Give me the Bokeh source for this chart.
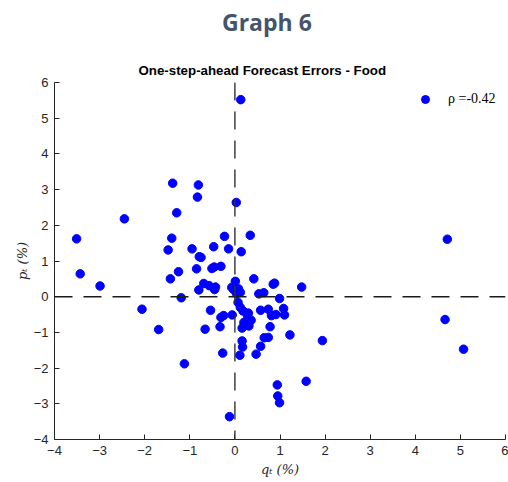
from bokeh.plotting import figure
from bokeh.models import Title, Span, FixedTicker, Legend, LegendItem, Div
from bokeh.layouts import column
from bokeh.embed import file_html
from bokeh.resources import INLINE

# forecast errors: q_t (x) and p_t (y), in percent
q = [0.13, -3.51, -3.43, -2.99, -2.45, -2.06, -1.69, -1.12, -1.38, -0.81,
     -0.83, -1.29, -1.40, -1.48, -0.95, -0.79, -0.75, -0.47, -0.23, -0.14,
     0.03, 0.34, 0.14, -1.25, -1.43, -0.85, -0.51, -0.46, -0.31, -0.69,
     -0.57, -0.43, -0.45, -0.80, -1.19, 0.01, 0.42, 0.85, 0.88, 1.48,
     -0.07, -0.03, 0.08, 0.12, 0.04, 0.53, 0.64, 0.99, 0.07, 0.12,
     0.18, 0.30, 0.28, -0.54, -0.31, -0.25, -0.06, 0.57, 0.74, 0.81,
     0.91, 1.08, 1.10, 0.20, 0.27, 0.36, 0.31, 0.16, -0.66, -0.33,
     0.78, 1.22, 0.65, 0.74, 0.16, 0.17, 0.57, -0.27, 0.11, 0.47,
     1.94, 1.58, 0.94, 0.95, 0.99, -0.12, 4.71, 4.66, 5.07]
p = [5.52, 1.62, 0.64, 0.30, 2.18, -0.35, -0.92, -1.88, 3.18, 3.13,
     2.79, 2.35, 1.64, 1.31, 1.34, 1.12, 1.10, 1.40, 1.69, 1.34,
     2.64, 1.72, 1.26, 0.70, 0.50, 0.78, 0.79, 0.83, 0.85, 0.37,
     0.31, 0.27, 0.20, 0.19, -0.03, 0.43, 0.50, 0.35, 0.38, 0.27,
     0.26, 0.20, 0.22, 0.12, 0.08, 0.08, 0.11, -0.05, -0.16, -0.30,
     -0.40, -0.46, -0.53, -0.38, -0.58, -0.53, -0.51, -0.38, -0.35, -0.53,
     -0.50, -0.33, -0.51, -0.72, -0.70, -0.66, -0.82, -0.88, -0.91, -0.84,
     -0.84, -1.07, -1.15, -1.14, -1.24, -1.41, -1.39, -1.58, -1.64, -1.61,
     -1.23, -2.37, -2.47, -2.78, -2.97, -3.36, 1.61, -0.64, -1.47]
rho_label = "\u03c1 =-0.42"
ticks = [-4, -3, -2, -1, 0, 1, 2, 3, 4, 5, 6]

header = Div(text=('<div style="font-family:\'Open Sans\';font-weight:bold;'
                   'font-size:23px;line-height:28px;color:#44546A;'
                   'padding-top:8px;padding-left:222px;white-space:nowrap;">'
                   'Graph 6</div>'),
             width=508, height=42, margin=0)

p_fig = figure(width=508, height=440, x_range=(-4, 6), y_range=(-4, 6),
               output_backend="svg", toolbar_location=None,
               min_border_left=54, min_border_right=3,
               min_border_top=40, min_border_bottom=43, margin=0)
p_fig.background_fill_color = "white"
p_fig.border_fill_color = "white"
p_fig.outline_line_color = None
p_fig.grid.visible = False

p_fig.title = Title(text="One-step-ahead Forecast Errors - Food",
                    text_font="Liberation Sans", text_font_size="13.3px",
                    text_font_style="bold", text_color="black",
                    align="left", offset=84, standoff=9)

r = p_fig.scatter(q, p, size=8.5, marker="circle", fill_color="#0000FF",
                  line_color="#0000FF")

for ax in (p_fig.xaxis[0], p_fig.yaxis[0]):
    ax.ticker = FixedTicker(ticks=ticks)
    ax.minor_tick_line_color = None
    ax.major_tick_in = 5
    ax.major_tick_out = 0
    ax.axis_line_color = "#262626"
    ax.major_tick_line_color = "#262626"
    ax.major_label_text_font = "Liberation Sans"
    ax.major_label_text_font_size = "13px"
    ax.major_label_text_color = "#262626"
    ax.axis_label_text_font = "DejaVu Serif"
    ax.axis_label_text_font_size = "13px"
    ax.axis_label_text_font_style = "italic"
    ax.axis_label_text_color = "#262626"

p_fig.xaxis[0].axis_label = "q\u209c (%)"
p_fig.yaxis[0].axis_label = "p\u209c (%)"
p_fig.xaxis[0].major_label_standoff = 6
p_fig.xaxis[0].axis_label_standoff = 4
p_fig.yaxis[0].major_label_standoff = 6
p_fig.yaxis[0].axis_label_standoff = 1

p_fig.add_layout(Span(location=0, dimension="width", line_color="#1a1a1a",
                      line_width=1.4, line_dash="18 11"))
p_fig.add_layout(Span(location=0, dimension="height", line_color="#333333",
                      line_width=1.4, line_dash="18 11"))

legend = Legend(items=[LegendItem(label=rho_label, renderers=[r])],
                location=(361, 330), margin=0, padding=0,
                label_standoff=13, glyph_width=20, glyph_height=20,
                border_line_alpha=0, background_fill_alpha=0,
                label_text_font="Liberation Serif", label_text_font_size="14px",
                label_text_color="black")
p_fig.add_layout(legend, "center")

layout = column(header, p_fig, spacing=0)
open("out.html", "w").write(file_html(layout, INLINE))
